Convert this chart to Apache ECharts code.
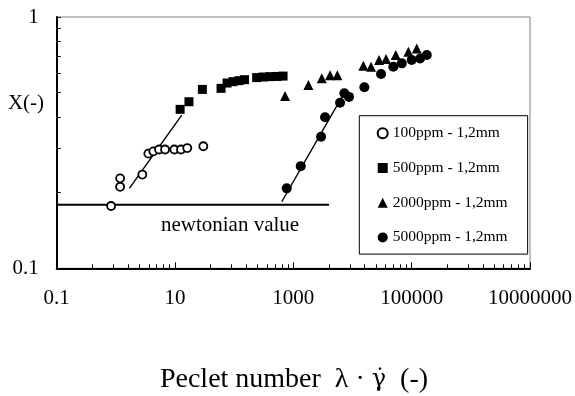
<!DOCTYPE html>
<html>
<head>
<meta charset="utf-8">
<script src="https://cdn.jsdelivr.net/npm/echarts@6/dist/echarts.min.js"></script>
<style>html,body{margin:0;padding:0;background:#fff}#c{width:575px;height:396px}</style>
</head>
<body>
<div id="c"></div>
<script>
// ---- data ----
const pe100 = [0.83, 1.18, 1.18, 2.8, 3.54, 4.3, 5.37, 6.78, 9.73, 12.6, 16.1, 30.1];
const x100  = [0.177, 0.228, 0.211, 0.236, 0.286, 0.292, 0.297, 0.297, 0.297, 0.297, 0.301, 0.306];

const pe500 = [12.2, 17.2, 29, 60, 75.7, 95.7, 120.8, 149.6, 240, 307, 404, 530, 670];
const x500  = [0.429, 0.46, 0.515, 0.52, 0.546, 0.553, 0.558, 0.563, 0.574, 0.577, 0.579, 0.58, 0.582];

const pe2000 = [724, 1795, 3020, 4170, 5550, 15240, 20600, 28100, 36900, 53800, 87900, 121900];
const x2000  = [0.485, 0.536, 0.57, 0.587, 0.587, 0.64, 0.634, 0.674, 0.68, 0.706, 0.727, 0.75];

const pe5000 = [773, 1334, 2940, 3433, 6160, 7280, 8720, 15850, 30400, 49000, 68000, 100000, 138700, 180000];
const x5000  = [0.208, 0.255, 0.334, 0.399, 0.456, 0.497, 0.481, 0.525, 0.593, 0.634, 0.654, 0.674, 0.684, 0.706];

const fit1Pe = [1.69, 13.0];  const fit1X = [0.208, 0.407];
const fit2Pe = [637, 6900];   const fit2X = [0.184, 0.489];
const newtPe = [0.1, 4000];   const newtX = [0.179, 0.179];

const seriesNames = ['100ppm - 1,2mm', '500ppm - 1,2mm', '2000ppm - 1,2mm', '5000ppm - 1,2mm'];
const xLabels = [0.1, 10, 1000, 100000, 10000000];
const yLabels = [0.1, 1];
const yTicks = [0.1, 0.2, 0.3, 0.4, 0.5, 0.6, 0.7, 0.8, 0.9, 1];
const minorFactors = [4, 9, 16, 25, 36, 49, 64, 81];

// ---- build ----
const xMinor = [];
for (let i = 0; i < xLabels.length - 1; i++) minorFactors.forEach(f => xMinor.push(xLabels[i] * f));
const zip = (a, b) => a.map((v, i) => [v, b[i]]);
const font = 'Liberation Serif';
const fmt = v => String(Number(Number(v).toPrecision(6)));

const chart = echarts.init(document.getElementById('c'), null, {renderer: 'canvas'});
const option = {
  animation: false,
  backgroundColor: '#fff',
  grid: {left: 56.7, right: 44.5, top: 17, bottom: 127.7, show: true, borderColor: '#808080', borderWidth: 1, backgroundColor: 'transparent'},
  xAxis: [{
    type: 'log', logBase: 10, min: 0.1, max: 10000000,
    axisLine: {show: true, lineStyle: {color: '#000', width: 2}},
    axisTick: {show: true, inside: true, length: 4, customValues: xMinor, lineStyle: {color: '#000', width: 1}},
    axisLabel: {customValues: xLabels, formatter: fmt, color: '#000', fontFamily: font, fontSize: 21, margin: 20},
    splitLine: {show: false}, minorTick: {show: false}
  }, {
    type: 'log', logBase: 10, min: 0.1, max: 10000000, position: 'bottom',
    axisLine: {show: false},
    axisTick: {show: true, inside: true, length: 6, customValues: xLabels, lineStyle: {color: '#000', width: 1}},
    axisLabel: {show: false}, splitLine: {show: false}
  }],
  yAxis: {
    type: 'log', logBase: 10, min: 0.1, max: 1,
    axisLine: {show: true, lineStyle: {color: '#000', width: 2}},
    axisTick: {show: true, inside: true, length: 4, customValues: yTicks, lineStyle: {color: '#000', width: 1}},
    axisLabel: {customValues: yLabels, formatter: fmt, color: '#000', fontFamily: font, fontSize: 21, margin: 18},
    splitLine: {show: false}
  },
  legend: {
    orient: 'vertical', left: 359.3, top: 115.7,
    data: seriesNames,
    backgroundColor: '#fff', borderColor: '#000', borderWidth: 1,
    padding: [9.6, 20, 8.7, 17.4],
    itemWidth: 10, itemHeight: 10, itemGap: 18.7,
    textStyle: {fontFamily: font, fontSize: 15.5, lineHeight: 16, color: '#000'}
  },
  series: [
    {name: 'fit1', type: 'line', data: zip(fit1Pe, fit1X), symbol: 'none', lineStyle: {color: '#000', width: 1.4}, z: 3, silent: true},
    {name: 'fit2', type: 'line', data: zip(fit2Pe, fit2X), symbol: 'none', lineStyle: {color: '#000', width: 1.4}, z: 3, silent: true},
    {name: 'newt', type: 'line', data: zip(newtPe, newtX), symbol: 'none', lineStyle: {color: '#000', width: 2}, z: 3, silent: true},
    {name: seriesNames[0], type: 'scatter', data: zip(pe100, x100), symbol: 'circle', symbolSize: 8,
      itemStyle: {color: '#fff', borderColor: '#000', borderWidth: 1.8, opacity: 1}, z: 4},
    {name: seriesNames[1], type: 'scatter', data: zip(pe500, x500), symbol: 'rect', symbolSize: 9,
      itemStyle: {color: '#000', opacity: 1}, z: 4},
    {name: seriesNames[2], type: 'scatter', data: zip(pe2000, x2000), symbol: 'triangle', symbolSize: 10,
      itemStyle: {color: '#000', opacity: 1}, z: 4},
    {name: seriesNames[3], type: 'scatter', data: zip(pe5000, x5000), symbol: 'circle', symbolSize: 10,
      itemStyle: {color: '#000', opacity: 1}, z: 4}
  ],
  graphic: [
    {type: 'text', x: 26, y: 103, style: {text: 'X(-)', fontFamily: font, fontSize: 21, fill: '#000', align: 'center', verticalAlign: 'middle'}},
    {type: 'text', x: 230, y: 225, style: {text: 'newtonian value', fontFamily: font, fontSize: 21, fill: '#000', align: 'center', verticalAlign: 'middle'}},
    {type: 'text', x: 294, y: 380, style: {
      text: '{a|Peclet number  λ · }{g|γ\u0307}{a|  (-)}',
      fill: '#000', align: 'center', verticalAlign: 'middle',
      rich: {
        a: {fontFamily: font, fontSize: 28, fill: '#000'},
        g: {fontFamily: 'DejaVu Serif', fontSize: 24, fill: '#000'}
      }
    }}
  ]
};
chart.setOption(option);
</script>
</body>
</html>
